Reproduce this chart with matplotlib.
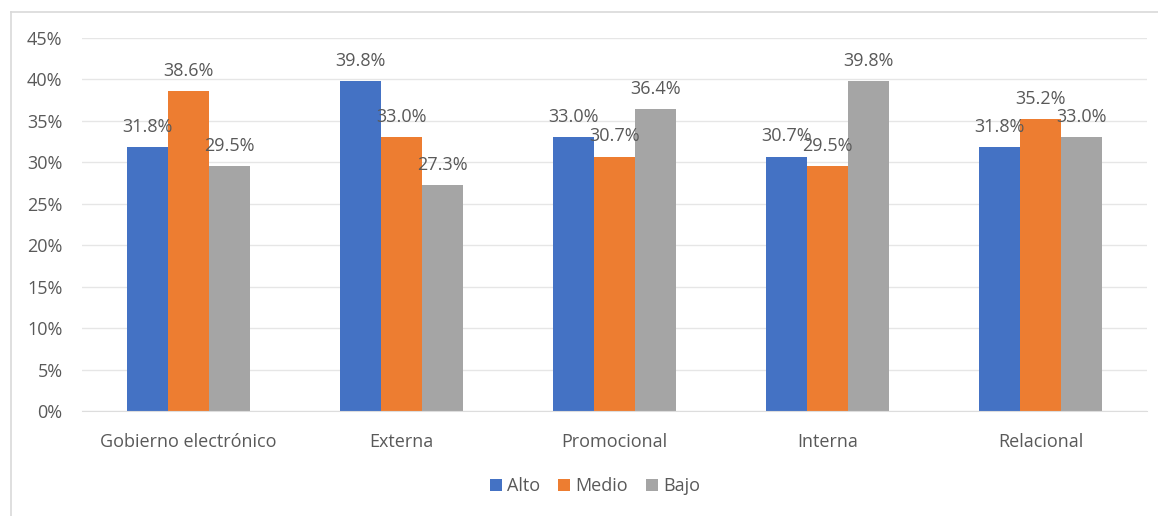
import numpy as np
import matplotlib.pyplot as plt
from matplotlib.lines import Line2D
from matplotlib.ticker import PercentFormatter

plt.rcParams['font.family'] = ['Open Sans', 'DejaVu Sans']

categories = ['Gobierno electrónico', 'Externa', 'Promocional', 'Interna', 'Relacional']
alto = [31.8, 39.8, 33.0, 30.7, 31.8]
medio = [38.6, 33.0, 30.7, 29.5, 35.2]
bajo = [29.5, 27.3, 36.4, 39.8, 33.0]

series = [('Alto', alto, '#4472C4'), ('Medio', medio, '#ED7D31'), ('Bajo', bajo, '#A5A5A5')]
text_color = '#595959'
fs = 13

fig = plt.figure(figsize=(11.58, 5.16), dpi=100)
ax = fig.add_axes([82 / 1158, 1 - 411 / 516, (1147 - 82) / 1158, (411 - 38) / 516])

x = np.arange(len(categories))
w = 0.193
for i, (name, vals, col) in enumerate(series):
    pos = x + (i - 1) * w
    ax.bar(pos, vals, width=w, color=col, label=name, zorder=2)
    for px, v in zip(pos, vals):
        ax.annotate(f'{v:.1f}%', (px, v), xytext=(0, 8), textcoords='offset points',
                    ha='center', va='bottom', fontsize=fs, color=text_color, zorder=3)

ax.set_xlim(-0.5, len(categories) - 0.5)
ax.set_ylim(0, 45)
ax.set_yticks(np.arange(0, 46, 5))
ax.yaxis.set_major_formatter(PercentFormatter(decimals=0))
ax.set_xticks(x)
ax.set_xticklabels(categories)
ax.tick_params(axis='both', length=0, labelsize=fs, colors=text_color)
ax.tick_params(axis='x', pad=16)
ax.tick_params(axis='y', pad=14)
ax.grid(axis='y', color='#E6E6E6', linewidth=1, zorder=0)
for s in ['top', 'right', 'left']:
    ax.spines[s].set_visible(False)
ax.spines['bottom'].set_color('#DDDDDD')

leg = fig.legend(loc='center', bbox_to_anchor=(595 / 1158, 1 - 486 / 516), ncol=3, frameon=False,
                 fontsize=fs, handlelength=0.65, handleheight=0.65, handletextpad=0.3, columnspacing=1.0)
for t in leg.get_texts():
    t.set_color(text_color)

# chart border (left and top only visible)
fig.add_artist(Line2D([11 / 1158, 11 / 1158], [0, 1 - 12 / 516], transform=fig.transFigure,
                      color='#D9D9D9', linewidth=1.2))
fig.add_artist(Line2D([11 / 1158, 1], [1 - 12 / 516, 1 - 12 / 516], transform=fig.transFigure,
                      color='#D9D9D9', linewidth=1.2))

fig.savefig('out.png', dpi=100)
